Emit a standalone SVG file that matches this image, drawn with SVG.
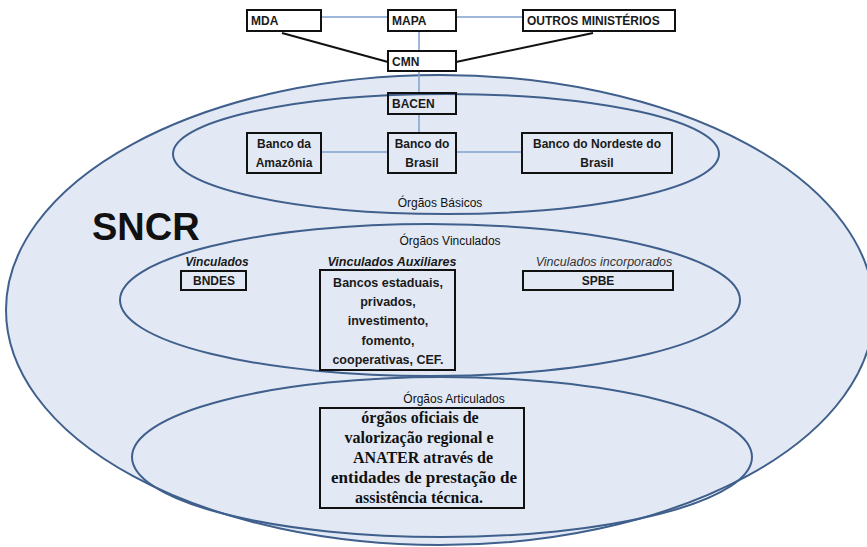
<svg xmlns="http://www.w3.org/2000/svg" width="867" height="547" viewBox="0 0 867 547">
<style>
.ell{fill:#e3e9f4;stroke:#3f5f8c;stroke-width:2}
.ell2{fill:none;stroke:#3f5f8c;stroke-width:2}
.box{fill:none;stroke:#111;stroke-width:2}
.wbox{fill:#fff;stroke:#111;stroke-width:2}
.t{font-family:"Liberation Sans",Arial,sans-serif;font-weight:bold;font-size:12px;fill:#1a1a1a}
.n{font-weight:normal;fill:#111}
.c{text-anchor:middle}
.it{font-style:italic}
.m{font-size:12.5px}
.s{font-family:"Liberation Serif","Times New Roman",serif;font-weight:bold;font-size:16px;fill:#111;text-anchor:middle}
.bl{stroke:#7f9fcf;stroke-width:1.5;fill:none}
.bk{stroke:#111;stroke-width:2;fill:none}
</style>
<rect width="867" height="547" fill="#fff"/>
<g id="sncr">
<ellipse class="ell" cx="440" cy="310" rx="434" ry="235"/>
<text x="92" y="240" style="font-family:'Liberation Sans',Arial,sans-serif;font-weight:bold;font-size:38px;fill:#111">SNCR</text>
</g>
<g id="basicos">
<ellipse class="ell2" cx="446" cy="154" rx="273" ry="60"/>
<text class="t c n" x="440" y="207">Órgãos Básicos</text>
</g>
<g id="vinculados-ellipse">
<ellipse class="ell2" cx="430" cy="300" rx="310" ry="76"/>
<text class="t c n" x="450" y="245">Órgãos Vinculados</text>
</g>
<g id="articulados-ellipse">
<ellipse class="ell2" cx="442" cy="457" rx="310" ry="80"/>
<text class="t c n" x="454" y="403">Órgãos Articulados</text>
</g>
<g id="connectors">
<line class="bl" x1="321" y1="17" x2="388" y2="17"/>
<line class="bl" x1="456" y1="17" x2="523" y2="17"/>
<line class="bl" x1="419" y1="31" x2="419" y2="51"/>
<line class="bl" x1="419" y1="71" x2="419" y2="93"/>
<line class="bl" x1="419" y1="114" x2="419" y2="133"/>
<line class="bl" x1="321" y1="152" x2="388" y2="152"/>
<line class="bl" x1="456" y1="152" x2="522" y2="152"/>
<line class="bk" x1="282" y1="33" x2="388" y2="62"/>
<line class="bk" x1="593" y1="33" x2="456" y2="62"/>
</g>
<g id="mda">
<rect class="wbox" x="247" y="10" width="74" height="21"/>
<text class="t" x="251" y="25">MDA</text>
</g>
<g id="mapa">
<rect class="wbox" x="388" y="10" width="68" height="21"/>
<text class="t" x="392" y="25">MAPA</text>
</g>
<g id="outros">
<rect class="wbox" x="523" y="10" width="152" height="21"/>
<text class="t" x="527" y="25">OUTROS MINISTÉRIOS</text>
</g>
<g id="cmn">
<rect class="wbox" x="388" y="51" width="68" height="20"/>
<text class="t" x="392" y="66">CMN</text>
</g>
<g id="bacen">
<rect class="box" x="388" y="93" width="68" height="21"/>
<text class="t" x="392" y="108">BACEN</text>
</g>
<g id="amazonia">
<rect class="box" x="247" y="133" width="74" height="40"/>
<text class="t c" x="284" y="148">Banco da</text>
<text class="t c" x="284" y="167">Amazônia</text>
</g>
<g id="brasil">
<rect class="box" x="388" y="133" width="68" height="40"/>
<text class="t c" x="422" y="148">Banco do</text>
<text class="t c" x="422" y="167">Brasil</text>
</g>
<g id="nordeste">
<rect class="box" x="522" y="133" width="150" height="40"/>
<text class="t c" x="597" y="148">Banco do Nordeste do</text>
<text class="t c" x="597" y="167">Brasil</text>
</g>
<g id="bndes">
<text class="t c it" x="217" y="266">Vinculados</text>
<rect class="box" x="181" y="271" width="65" height="19"/>
<text class="t c" x="214" y="285">BNDES</text>
</g>
<g id="auxiliares">
<text class="t c it m" x="392" y="266">Vinculados Auxiliares</text>
<rect class="box" x="320" y="270" width="135" height="100"/>
<text class="t c m" x="388" y="287">Bancos estaduais,</text>
<text class="t c m" x="388" y="306">privados,</text>
<text class="t c m" x="388" y="325">investimento,</text>
<text class="t c m" x="388" y="345">fomento,</text>
<text class="t c m" x="388" y="364">cooperativas, CEF.</text>
</g>
<g id="spbe">
<text class="t c it n m" x="604" y="266" style="fill:#333">Vinculados incorporados</text>
<rect class="box" x="523" y="271" width="150" height="19"/>
<text class="t c" x="598" y="285">SPBE</text>
</g>
<g id="articulados">
<rect class="box" x="320" y="408" width="204" height="100"/>
<text class="s" x="420" y="423">órgãos oficiais de</text>
<text class="s" x="419" y="443">valorização regional e</text>
<text class="s" x="423" y="463">ANATER através de</text>
<text class="s" x="424" y="483" textLength="186" lengthAdjust="spacingAndGlyphs">entidades de prestação de</text>
<text class="s" x="419" y="503">assistência técnica.</text>
</g>
</svg>
